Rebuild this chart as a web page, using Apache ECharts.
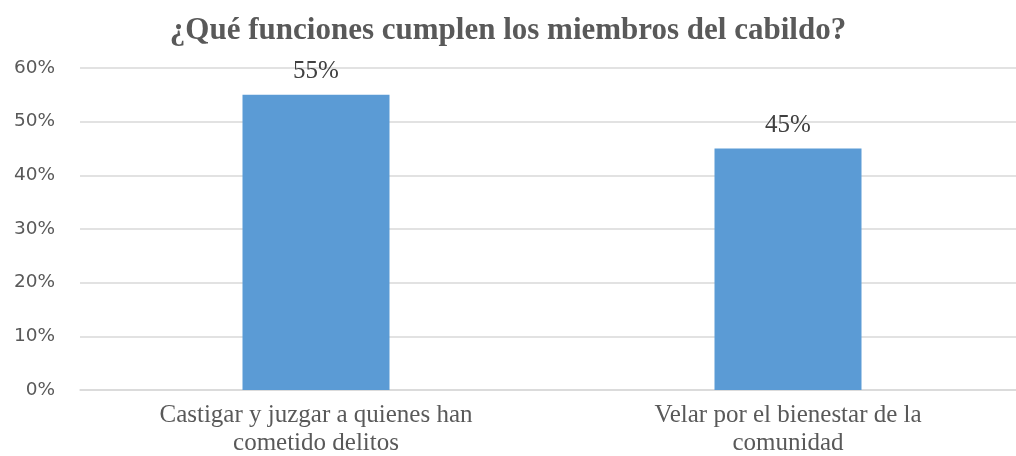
<!DOCTYPE html>
<html>
<head>
<meta charset="utf-8">
<script src="https://cdn.jsdelivr.net/npm/echarts@6/dist/echarts.min.js"></script>
<style>
  html, body { margin: 0; padding: 0; background: #fff; }
  #main { width: 1016px; height: 456px; }
</style>
</head>
<body>
<div id="main"></div>
<script>
// datos del gráfico
var categorias = ['Castigar y juzgar a quienes han\ncometido delitos', 'Velar por el bienestar de la\ncomunidad'];
var valores = [55, 45];
var ticks = [0, 10, 20, 30, 40, 50, 60];

var myChart = echarts.init(document.getElementById('main'));

var option = {
    title: {
        text: '¿Qué funciones cumplen los miembros del cabildo?',
        left: 'center',
        top: 10,
        textStyle: {
            fontFamily: 'Liberation Serif',
            fontWeight: 'bold',
            fontSize: 31,
            color: '#595959'
        }
    },
    grid: {
        left: 80,
        right: -8,
        top: 68,
        bottom: 66,
        outerBoundsMode: 'none'
    },
    xAxis: {
        type: 'category',
        data: categorias,
        axisTick: { show: false },
        axisLine: { lineStyle: { color: '#d9d9d9', width: 1.5 } },
        axisLabel: {
            fontFamily: 'Liberation Serif',
            fontSize: 25,
            color: '#595959',
            lineHeight: 28,
            margin: 11
        }
    },
    yAxis: {
        type: 'value',
        min: ticks[0],
        max: ticks[ticks.length - 1],
        interval: 10,
        axisLine: { show: false },
        axisTick: { show: false },
        splitLine: { lineStyle: { color: '#d9d9d9', width: 1.5 } },
        axisLabel: {
            formatter: '{value}%',
            fontFamily: 'DejaVu Sans',
            fontSize: 18.5,
            color: '#595959',
            margin: 25
        }
    },
    series: [{
        type: 'bar',
        data: valores,
        barWidth: 147,
        itemStyle: { color: '#5b9bd5' },
        label: {
            show: true,
            position: 'top',
            formatter: '{c}%',
            fontFamily: 'Liberation Serif',
            fontSize: 25,
            color: '#404040',
            distance: 11
        }
    }]
};

myChart.setOption(option);
</script>
</body>
</html>
